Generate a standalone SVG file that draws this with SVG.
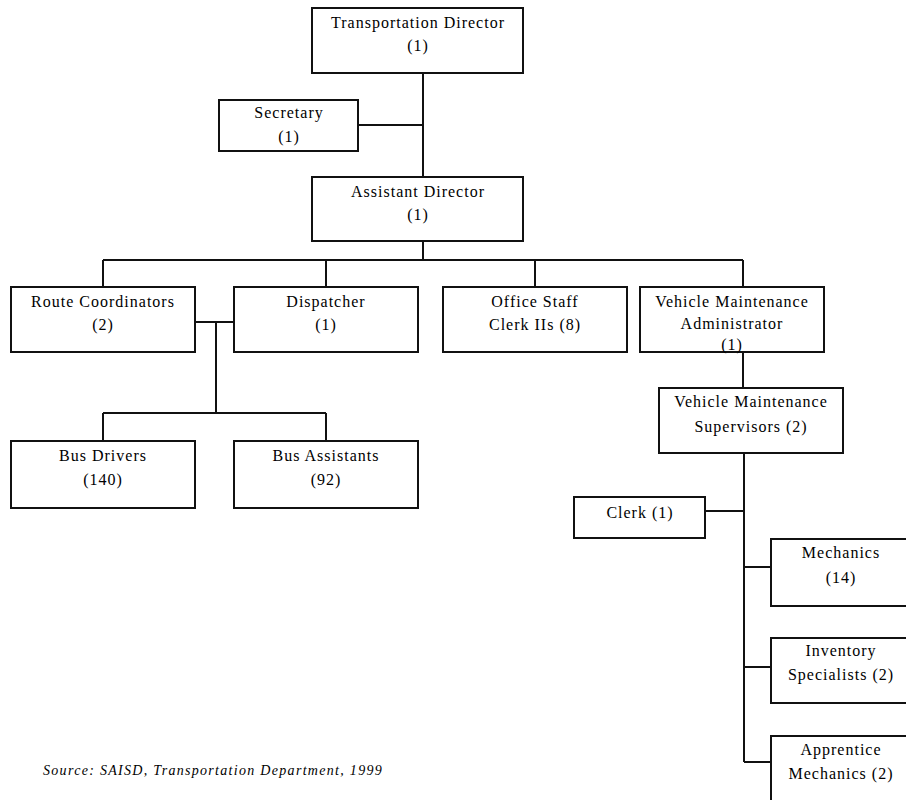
<svg xmlns="http://www.w3.org/2000/svg" width="906" height="800" viewBox="0 0 906 800">
<style>
.box{fill:#fff;stroke:#111;stroke-width:2}
.ln{fill:none;stroke:#111;stroke-width:2}
text{font-family:"Liberation Serif","Times New Roman",serif;font-size:16px;letter-spacing:1px;fill:#000;text-anchor:middle}
.src{font-size:14px;font-style:italic;text-anchor:start;letter-spacing:1.3px}
</style>
<rect width="906" height="800" fill="#fff"/>
<g id="connectors">
<path class="ln" d="M423 73V177M358 125H423"/>
<path class="ln" d="M423 241V260M103 260H743M103 260V287M326 260V287M535 260V287M743 260V287"/>
<path class="ln" d="M195 322H234M216 322V413M103 413H326M103 413V441M326 413V441"/>
<path class="ln" d="M743 352V388"/>
<path class="ln" d="M744 453V762M705 511H744M744 567H771M744 667H771M744 762H771"/>
</g>
<g id="transportation-director"><rect class="box" x="312" y="8" width="211" height="65"/><text x="418" y="28">Transportation Director</text><text x="418" y="51">(1)</text></g>
<g id="secretary"><rect class="box" x="219" y="100" width="139" height="51"/><text x="289" y="118">Secretary</text><text x="289" y="142">(1)</text></g>
<g id="assistant-director"><rect class="box" x="312" y="177" width="211" height="64"/><text x="418" y="197">Assistant Director</text><text x="418" y="220">(1)</text></g>
<g id="route-coordinators"><rect class="box" x="11" y="287" width="184" height="65"/><text x="103" y="307">Route Coordinators</text><text x="103" y="330">(2)</text></g>
<g id="dispatcher"><rect class="box" x="234" y="287" width="184" height="65"/><text x="326" y="307">Dispatcher</text><text x="326" y="330">(1)</text></g>
<g id="office-staff"><rect class="box" x="443" y="287" width="184" height="65"/><text x="535" y="307">Office Staff</text><text x="535" y="330">Clerk IIs (8)</text></g>
<g id="vehicle-maintenance-administrator"><rect class="box" x="640" y="287" width="184" height="65"/><text x="732" y="307">Vehicle Maintenance</text><text x="732" y="329">Administrator</text><text x="732" y="350">(1)</text></g>
<g id="bus-drivers"><rect class="box" x="11" y="441" width="184" height="67"/><text x="103" y="461">Bus Drivers</text><text x="103" y="485">(140)</text></g>
<g id="bus-assistants"><rect class="box" x="234" y="441" width="184" height="67"/><text x="326" y="461">Bus Assistants</text><text x="326" y="485">(92)</text></g>
<g id="vehicle-maintenance-supervisors"><rect class="box" x="659" y="388" width="184" height="65"/><text x="751" y="407">Vehicle Maintenance</text><text x="751" y="432">Supervisors (2)</text></g>
<g id="clerk"><rect class="box" x="574" y="497" width="131" height="41"/><text x="640" y="518">Clerk (1)</text></g>
<g id="mechanics"><rect class="box" x="771" y="539" width="140" height="67"/><text x="841" y="558">Mechanics</text><text x="841" y="583">(14)</text></g>
<g id="inventory-specialists"><rect class="box" x="771" y="638" width="140" height="65"/><text x="841" y="656">Inventory</text><text x="841" y="680">Specialists (2)</text></g>
<g id="apprentice-mechanics"><rect class="box" x="771" y="736" width="140" height="70"/><text x="841" y="755">Apprentice</text><text x="841" y="779">Mechanics (2)</text></g>
<text class="src" x="43" y="775">Source: SAISD, Transportation Department, 1999</text>
</svg>
